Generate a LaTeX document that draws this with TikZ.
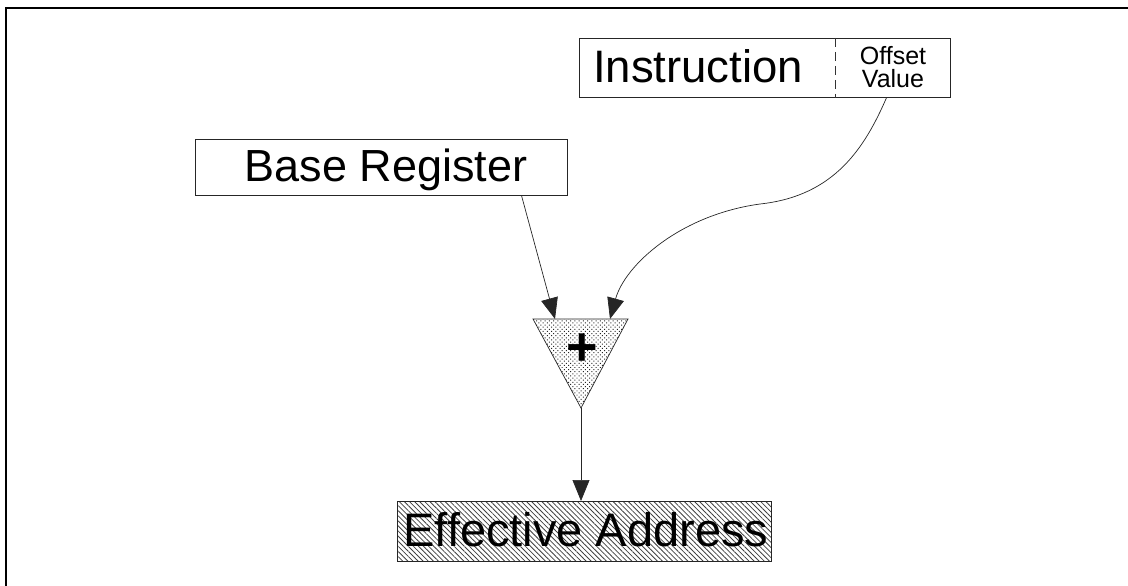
\documentclass[tikz,border=0pt]{standalone}
\usepackage{fontspec}
\setmainfont{Liberation Sans}
\usetikzlibrary{arrows.meta,patterns,patterns.meta,calc}
\begin{document}
\begin{tikzpicture}[x=1pt,y=-1pt,
  box/.style={draw=black!85, line width=0.8pt, inner sep=0pt, anchor=north west},
  conn/.style={draw=black!85, line width=0.7pt},
  arr/.style={conn, -{Triangle[length=21pt,width=17pt]}},
  label/.style={inner sep=0pt, anchor=base},
]
\useasboundingbox (0,0) rectangle (1128,586);

% page frame
\draw[line width=2pt] (6,586) -- (6,8) -- (1128,8);

% instruction word with its offset field
\node[box, minimum width=371pt, minimum height=59pt] (instr) at (579,38) {};
\draw[black!80, line width=0.7pt, dash pattern=on 9pt off 5pt]
  ($(instr.north west)+(256,0)$) -- ($(instr.south west)+(256,0)$);
\node[label] (opcode) at (698,82)
  {\fontsize{45.5}{45.5}\selectfont Instruction};
% the base anchor of a two-line label sits on its last line
\node[label, align=center, font=\fontsize{25}{23.5}\selectfont] (offset) at (893,88)
  {Offset\\Value};

% base register
\node[box, minimum width=372pt, minimum height=56pt] (base) at (195,139) {};
\node[label] (basetext) at (386,181)
  {\fontsize{45}{45}\selectfont Base Register};

% adder
\coordinate (tl) at (533,319);
\coordinate (tr) at (628,319);
\coordinate (apex) at (581,408);
\filldraw[draw=black!85, line width=0.7pt,
  pattern={Dots[radius=0.7pt,distance=3pt,angle=45]}, pattern color=black!85]
  (tl) -- (tr) -- (apex) -- cycle;
\node[inner sep=0pt] (plus) at (582,350) {\fontsize{54}{54}\selectfont\bfseries +};
\coordinate (inL) at (555,319);
\coordinate (inR) at (610,319);

% effective address
\node[box, minimum width=374pt, minimum height=60pt,
  pattern={Lines[angle=-45,distance=3.6pt,line width=0.8pt]}, pattern color=black!75]
  (ea) at (397,501) {};
\node[label] (eatext) at (586,546)
  {\fontsize{47}{47}\selectfont Effective Address};

% connectors
\draw[arr] ($(base.south west)!0.876!(base.south east)$) -- (inL);
\draw[arr] ($(instr.south west)!0.827!(instr.south east)$)
  .. controls (865,147) and (835,196) .. (760,204)
  .. controls (680,215) and (625,265) .. (inR);
\draw[arr] (apex) -- (apex |- ea.north);
\end{tikzpicture}
\end{document}
